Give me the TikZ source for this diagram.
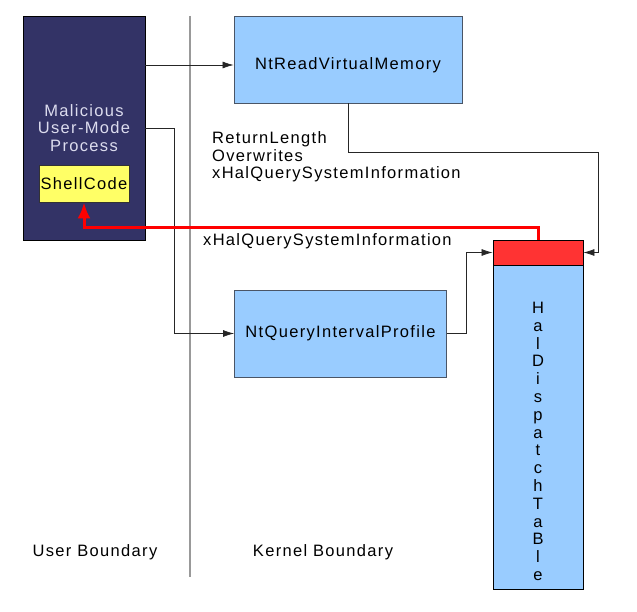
\documentclass[tikz,border=0pt]{standalone}
\usepackage{fontspec}
\setmainfont{Liberation Sans}[LetterSpace=8.0]
\usetikzlibrary{arrows.meta}
\definecolor{navy}{HTML}{333366}
\definecolor{lblue}{HTML}{99CCFF}
\definecolor{yel}{HTML}{FFFF66}
\definecolor{hred}{HTML}{FF3333}
\definecolor{boxedge}{HTML}{4A5566}
\definecolor{ptext}{HTML}{DCDCEE}
\begin{document}
\begin{tikzpicture}[x=1pt,y=-1pt,
  every node/.style={font=\fontsize{16.5}{17.5}\selectfont, inner sep=0pt},
  kbox/.style={draw=boxedge, line width=0.9pt, fill=lblue, minimum width=#1, anchor=center},
  conn/.style={draw=black!85, line width=0.7pt},
  arr/.style={conn, -{Latex[length=11pt,width=7pt]}},
  redarr/.style={draw=red, line width=3pt, -{Latex[length=16pt,width=13pt]}},
  txt/.style={text=black}
]
\useasboundingbox (0,0) rectangle (637,612);
% boundary line
\coordinate (bt) at (190,16);
\coordinate (bb) at (190,577);
\draw[draw=black!40, line width=1.8pt] (bt) -- (bb);
% user process
\node[draw=black, line width=0.9pt, fill=navy, minimum width=122pt, minimum height=224pt,
  text=ptext, align=center] (proc) at (84,128) {Malicious\\User-Mode\\Process};
\node[draw=black!80, line width=0.9pt, fill=yel, minimum width=90pt, minimum height=37pt] (shell) at (84,183.5) {ShellCode};
% kernel boxes
\node[kbox=228pt, minimum height=87pt] (read) at (348,59.5) {};
\node[txt] (readtxt) at (348,65) {NtReadVirtualMemory};
\node[kbox=212pt, minimum height=87pt] (query) at (340.5,333.5) {NtQueryIntervalProfile};
% hal table
\node[draw=black, line width=0.9pt, fill=lblue, minimum width=90pt, minimum height=324pt] (hal) at (538,427) {};
\node[draw=black, line width=0.9pt, fill=hred, minimum width=90pt, minimum height=25pt] (red) at (538,252.5) {};
\node[txt, align=center, font=\fontsize{16.5}{17.8}\selectfont] (haltxt) at (538,441.5)
  {H\\a\\l\\D\\i\\s\\p\\a\\t\\c\\h\\T\\a\\B\\l\\e};
% labels
\node[txt, align=left, anchor=west] (rl) at (212,157) {ReturnLength\\Overwrites\\xHalQuerySystemInformation};
\node[txt, anchor=west] (xq) at (203,241) {xHalQuerySystemInformation};
\node[txt] (ub) at (95,552) {User Boundary};
\node[txt] (kb) at (323,552) {Kernel Boundary};
% connectors
\draw[arr] (proc.east |- readtxt) -- (read.west |- readtxt);
\coordinate (b1) at (174,128);
\draw[arr] (proc.east) -- (b1) |- (query.west);
\coordinate (b2) at (466,333.5);
\draw[arr] (query.east) -- (b2) |- (red.west);
\coordinate (b3) at (348,152.5);
\coordinate (b4) at (598,152.5);
\draw[arr] (read.south) -- (b3) -- (b4) |- (red.east);
\coordinate (b5) at (538,227.5);
\draw[redarr] (red.north) -- (b5) -| (shell.south);
\end{tikzpicture}
\end{document}
